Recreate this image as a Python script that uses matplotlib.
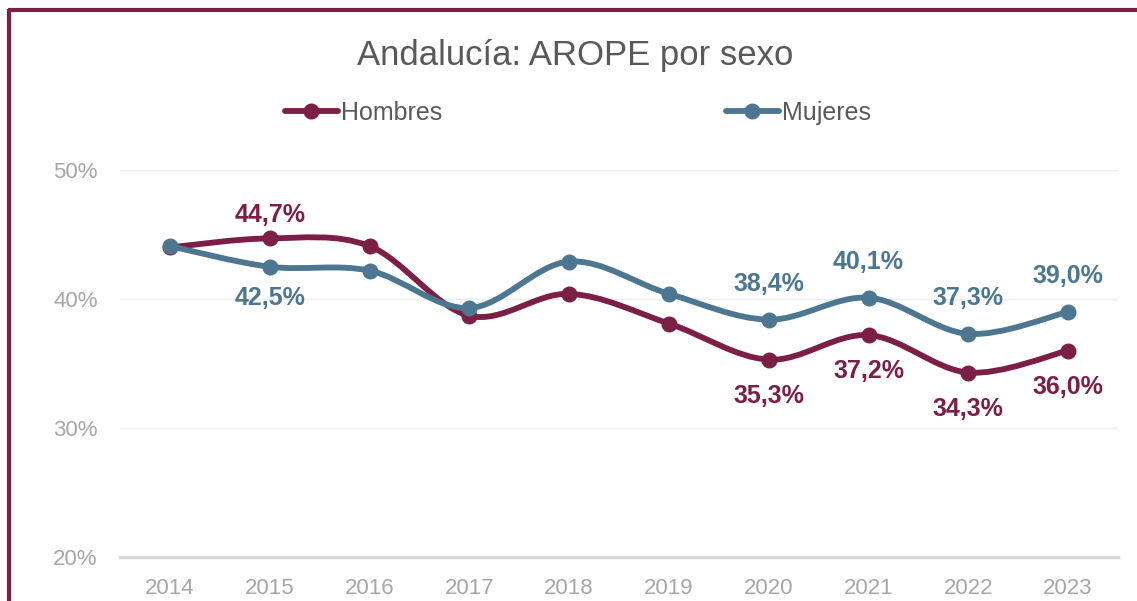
import matplotlib
matplotlib.use("Agg")
import matplotlib.pyplot as plt
from matplotlib.path import Path
from matplotlib.patches import PathPatch
from matplotlib.lines import Line2D
import numpy as np

years = ["2014", "2015", "2016", "2017", "2018", "2019", "2020", "2021", "2022", "2023"]
hombres = [44.0, 44.7, 44.1, 38.7, 40.4, 38.1, 35.3, 37.2, 34.3, 36.0]
mujeres = [44.1, 42.5, 42.2, 39.3, 42.9, 40.4, 38.4, 40.1, 37.3, 39.0]
yticks = [20, 30, 40, 50]
title = "Andalucía: AROPE por sexo"
series_names = ["Hombres", "Mujeres"]

C_H = "#7c1f46"
C_M = "#4d7690"
FONT = "Liberation Sans"

plt.rcParams["font.family"] = [FONT, "DejaVu Sans"]

fig = plt.figure(figsize=(11.37, 6.01), dpi=100)
W, H = 1137, 601
ax = fig.add_axes([120 / W, 1 - 557 / H, (1118 - 120) / W, (557 - 170) / H])

x = np.arange(len(years))


def smooth_path(xs, ys):
    pts = np.column_stack([xs, ys]).astype(float)
    verts = [pts[0]]
    codes = [Path.MOVETO]
    n = len(pts)
    for i in range(n - 1):
        p0 = pts[i - 1] if i > 0 else pts[i]
        p1 = pts[i]
        p2 = pts[i + 1]
        p3 = pts[i + 2] if i + 2 < n else pts[i + 1]
        c1 = p1 + (p2 - p0) / 6.0
        c2 = p2 - (p3 - p1) / 6.0
        verts += [c1, c2, p2]
        codes += [Path.CURVE4] * 3
    return Path(verts, codes)


LW = 4.2
for vals, col, z in [(hombres, C_H, 3), (mujeres, C_M, 4)]:
    patch = PathPatch(smooth_path(x, vals), facecolor="none", edgecolor=col,
                      lw=LW, zorder=z, capstyle="round", joinstyle="round")
    ax.add_patch(patch)
    ax.plot(x, vals, "o", color=col, ms=10.5, zorder=z + 0.5)

ax.set_xlim(-0.5, len(years) - 0.5)
ax.set_ylim(20, 50)
ax.set_yticks(yticks)
ax.set_yticklabels([f"{t}%" for t in yticks])
ax.set_xticks(x)
ax.set_xticklabels(years)
ax.tick_params(axis="both", length=0, labelsize=16, labelcolor="#a6a6a6")
ax.tick_params(axis="x", pad=15)
ax.tick_params(axis="y", pad=16)
for s in ax.spines.values():
    s.set_visible(False)
for t in yticks[1:]:
    ax.axhline(t, color="#eeeeee", lw=1, zorder=1)
ax.axhline(20, color="#d9d9d9", lw=2.5, zorder=1, clip_on=False)

# data labels: (series values, color, index, offset px)
label_specs = [
    (hombres, C_H, 1, 23), (hombres, C_H, 6, -36), (hombres, C_H, 7, -36),
    (hombres, C_H, 8, -36), (hombres, C_H, 9, -36),
    (mujeres, C_M, 1, -31), (mujeres, C_M, 6, 36), (mujeres, C_M, 7, 36),
    (mujeres, C_M, 8, 36), (mujeres, C_M, 9, 36),
]
for vals, col, i, dy in label_specs:
    ax.annotate(f"{vals[i]:.1f}%".replace(".", ","), (x[i], vals[i]),
                xytext=(0, dy * 0.72), textcoords="offset points",
                ha="center", va="center", fontsize=18, fontweight="bold",
                color=col, zorder=6)

fig.text((357 + 793) / 2 / W, 1 - 55 / H, title, ha="center", va="center",
         fontsize=25, color="#595959")

for name, col, xl in [(series_names[0], C_H, 285), (series_names[1], C_M, 726)]:
    h = Line2D([], [], color=col, lw=LW, marker="o", ms=10.5, solid_capstyle="round")
    leg = fig.legend([h], [name], loc="center left",
                     bbox_to_anchor=(xl / W, 1 - 113 / H), frameon=False,
                     fontsize=18, handlelength=2.1, handletextpad=0.15,
                     borderpad=0, borderaxespad=0, labelcolor="#595959")

# frame
fig.add_artist(Line2D([9 / W, 9 / W], [0, 1 - 9 / H], color=C_H, lw=3,
                      transform=fig.transFigure, solid_capstyle="butt"))
fig.add_artist(Line2D([7.5 / W, 1], [1 - 9.5 / H, 1 - 9.5 / H], color=C_H, lw=3,
                      transform=fig.transFigure, solid_capstyle="butt"))

fig.savefig("out.png", dpi=100)
